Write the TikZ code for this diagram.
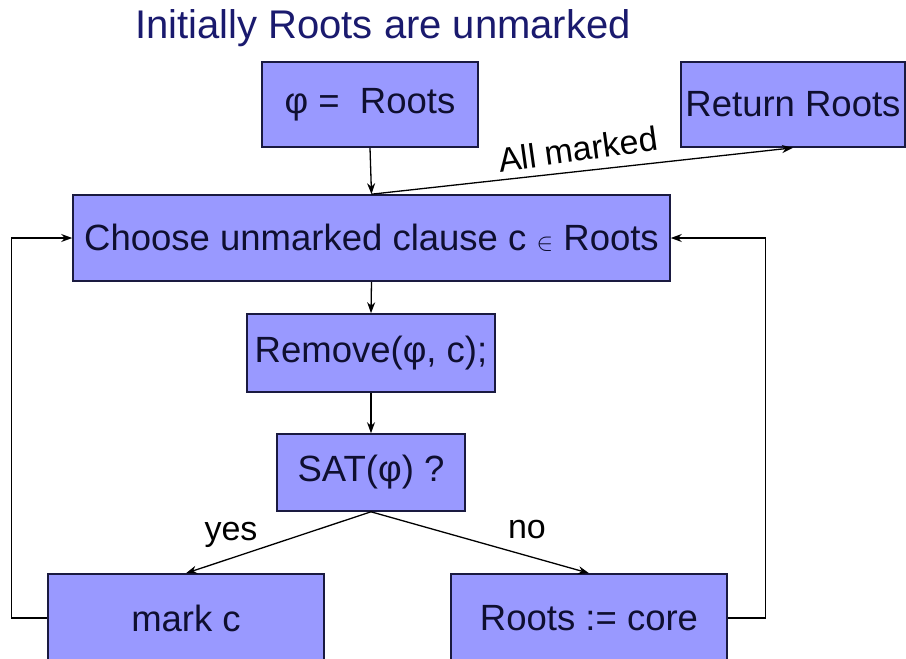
\documentclass[tikz,border=0pt]{standalone}
\usepackage{fontspec}
\setmainfont{Liberation Sans}
\usetikzlibrary{arrows.meta}
\definecolor{boxfill}{HTML}{9999FF}
\definecolor{boxline}{HTML}{1A1A40}
\definecolor{boxtext}{HTML}{0F0F30}
\definecolor{titlecol}{HTML}{1A1A6E}
\begin{document}
\begin{tikzpicture}[x=1pt,y=-1pt,
  box/.style={draw=boxline, line width=1.6pt, fill=boxfill, inner sep=0pt,
              font=\fontsize{36.5}{40}\selectfont, text=boxtext},
  conn/.style={-{Stealth[length=11pt,width=8pt]}, line width=1.3pt},
  lbl/.style={font=\fontsize{34}{38}\selectfont, inner sep=0pt}]
\clip (0,0) rectangle (906,659);
\node[text=titlecol, font=\fontsize{40}{44}\selectfont, inner sep=0pt] (title) at (383,28) {Initially Roots are unmarked};
\node[box, minimum width=216pt, minimum height=85pt] (phi) at (370,104.5) {φ =~~Roots};
\node[box, minimum width=224pt, minimum height=85pt] (ret) at (793,104.5) {Return Roots};
\node[box, minimum width=597pt, minimum height=86pt] (choose) at (371.5,238) {Choose unmarked clause c $\in$ Roots};
\node[box, minimum width=248pt, minimum height=78pt] (remove) at (371,353) {Remove(φ, c);};
\node[box, minimum width=188pt, minimum height=77pt] (sat) at (371,472.5) {SAT(φ) ?};
\node[box, minimum width=276pt, minimum height=88pt] (mark) at (186,618) {mark c};
\node[box, minimum width=276pt, minimum height=88pt] (core) at (589,618) {Roots := core};

\draw[conn] (phi.south) -- (choose.north);
\draw[conn] (choose.north) -- (ret.south);
\node[lbl, rotate=8] (allm) at (578,149) {All marked};
\draw[conn] (choose.south) -- (remove.north);
\draw[conn] (remove.south) -- (sat.north);
\draw[conn] (sat.south) -- (mark.north);
\draw[conn] (sat.south) -- (core.north);
\node[lbl] (yes) at (231,535) {yes};
\node[lbl] (no) at (527,530) {no};
\draw[conn] (mark.west) -- ++(-36,0) |- (choose.west);
\draw[conn] (core.east) -- ++(38,0) |- (choose.east);
\end{tikzpicture}
\end{document}
